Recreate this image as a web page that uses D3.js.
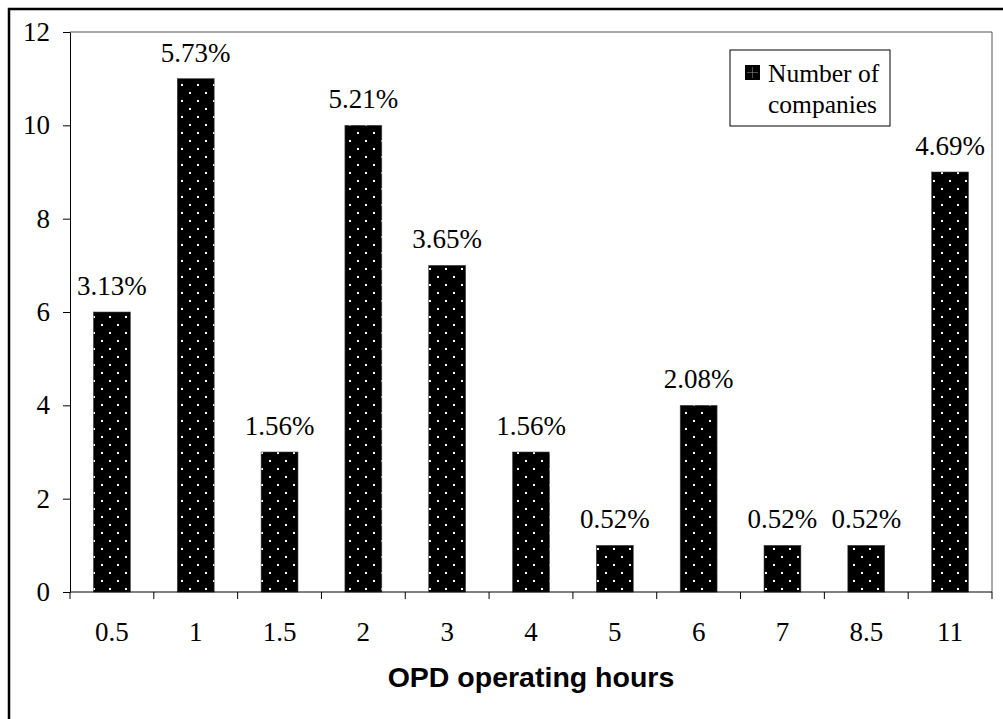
<!DOCTYPE html>
<html>
<head>
<meta charset="utf-8">
<script src="https://cdn.jsdelivr.net/npm/d3@7"></script>
<style>
  body { margin: 0; background: #fff; }
  svg { display: block; }
</style>
</head>
<body>
<svg id="chart"></svg>
<script>
// chart data
const hours = ["0.5", "1", "1.5", "2", "3", "4", "5", "6", "7", "8.5", "11"];
const companies = [6, 11, 3, 10, 7, 3, 1, 4, 1, 1, 9];
const shares = ["3.13%", "5.73%", "1.56%", "5.21%", "3.65%", "1.56%", "0.52%", "2.08%", "0.52%", "0.52%", "4.69%"];
const yTicks = [0, 2, 4, 6, 8, 10, 12];

const width = 1003;
const height = 719;
const margin = { top: 32, right: 11, bottom: 127, left: 70 };
const serif = "Liberation Serif, Times New Roman, serif";
const fs = 27;

const svg = d3.select("#chart")
  .attr("width", width)
  .attr("height", height);

// dotted fill like the original
const defs = svg.append("defs");
const pat = defs.append("pattern")
  .attr("id", "dots")
  .attr("patternUnits", "userSpaceOnUse")
  .attr("width", 16)
  .attr("height", 16);
pat.append("rect").attr("width", 16).attr("height", 16).attr("fill", "#000");
pat.append("rect").attr("x", 5).attr("y", 4).attr("width", 2).attr("height", 2).attr("fill", "#fff");
pat.append("rect").attr("x", 13).attr("y", 12).attr("width", 2).attr("height", 2).attr("fill", "#fff");

// outer frame, runs off the right and bottom edge
svg.append("rect")
  .attr("x", 9).attr("y", 9)
  .attr("width", 1100).attr("height", 900)
  .attr("fill", "none")
  .attr("stroke", "#000")
  .attr("stroke-width", 2.5);

const x = d3.scaleBand()
  .domain(hours)
  .range([margin.left, width - margin.right])
  .paddingInner(0.56)
  .paddingOuter(0.28);

const y = d3.scaleLinear()
  .domain([0, 12])
  .range([height - margin.bottom, margin.top]);

// plot area frame (top + right)
svg.append("path")
  .attr("d", `M${margin.left},${margin.top}H${width - margin.right}V${height - margin.bottom}`)
  .attr("fill", "none")
  .attr("stroke", "#555")
  .attr("stroke-width", 1);

// bars
svg.append("g")
  .selectAll("rect")
  .data(companies)
  .join("rect")
  .attr("x", (d, i) => x(hours[i]))
  .attr("y", d => y(d))
  .attr("width", x.bandwidth())
  .attr("height", d => y(0) - y(d))
  .attr("fill", "url(#dots)")
  .attr("stroke", "#444")
  .attr("stroke-width", 0.6);

// percent labels
svg.append("g")
  .selectAll("text")
  .data(companies)
  .join("text")
  .attr("x", (d, i) => x(hours[i]) + x.bandwidth() / 2)
  .attr("y", d => y(d) - 17)
  .attr("text-anchor", "middle")
  .attr("font-family", serif)
  .attr("font-size", fs)
  .text((d, i) => shares[i]);

// y axis
const yAxis = svg.append("g")
  .attr("transform", `translate(${margin.left},0)`)
  .call(d3.axisLeft(y).tickValues(yTicks).tickSize(7).tickPadding(13).tickSizeOuter(0));
yAxis.selectAll("text")
  .attr("font-family", serif)
  .attr("font-size", fs)
  .attr("fill", "#000");

// x axis: ticks between categories
const step = x.step();
const bounds = d3.range(hours.length + 1).map(i => margin.left + i * step);
const xg = svg.append("g");
xg.append("line")
  .attr("x1", margin.left).attr("x2", width - margin.right)
  .attr("y1", y(0)).attr("y2", y(0))
  .attr("stroke", "#000");
xg.selectAll("line.tick")
  .data(bounds)
  .join("line")
  .attr("class", "tick")
  .attr("x1", d => d).attr("x2", d => d)
  .attr("y1", y(0)).attr("y2", y(0) + 7)
  .attr("stroke", "#000");
xg.selectAll("text")
  .data(hours)
  .join("text")
  .attr("x", d => x(d) + x.bandwidth() / 2)
  .attr("y", y(0) + 49)
  .attr("text-anchor", "middle")
  .attr("font-family", serif)
  .attr("font-size", fs)
  .text(d => d);

// axis title
svg.append("text")
  .attr("x", 531)
  .attr("y", 687)
  .attr("text-anchor", "middle")
  .attr("font-family", "Liberation Sans, Arial, sans-serif")
  .attr("font-weight", "bold")
  .attr("font-size", 28.5)
  .text("OPD operating hours");

// legend
const lg = svg.append("g").attr("transform", "translate(730,50)");
lg.append("rect")
  .attr("width", 160).attr("height", 76)
  .attr("fill", "#fff")
  .attr("stroke", "#000");
lg.append("rect")
  .attr("x", 15).attr("y", 15)
  .attr("width", 15).attr("height", 15)
  .attr("fill", "#000");
lg.append("line")
  .attr("x1", 22.5).attr("x2", 22.5).attr("y1", 17).attr("y2", 28)
  .attr("stroke", "#888").attr("stroke-width", 0.6);
lg.append("line")
  .attr("x1", 17).attr("x2", 28).attr("y1", 22.5).attr("y2", 22.5)
  .attr("stroke", "#888").attr("stroke-width", 0.6);
const lt = lg.append("text")
  .attr("font-family", serif)
  .attr("font-size", 25.5);
lt.append("tspan").attr("x", 38).attr("y", 32).text("Number of");
lt.append("tspan").attr("x", 38).attr("y", 63).text("companies");
</script>
</body>
</html>
